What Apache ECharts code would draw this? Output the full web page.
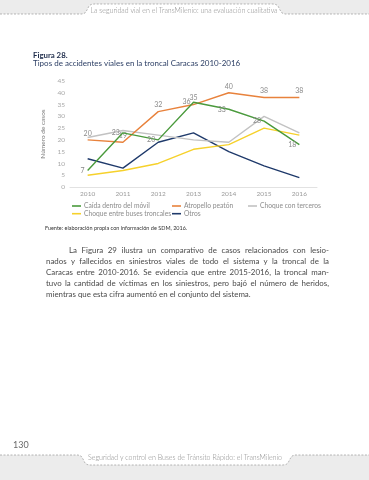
<!DOCTYPE html>
<html><head><meta charset="utf-8">
<script src="https://cdn.jsdelivr.net/npm/echarts@6/dist/echarts.min.js"></script>
<style>html,body{margin:0;padding:0;background:#fff}#c{width:369px;height:480px}</style>
</head><body><div id="c"></div>
<script>
// ---- data ----
const categories = ['2010', '2011', '2012', '2013', '2014', '2015', '2016'];
const caidaMovil = [7, 23, 20, 36, 33, 28, 18];
const atropelloPeaton = [20, 19, 32, 35, 40, 38, 38];
const choqueTerceros = [21, 24, 22, 20, 19, 30, 23];
const choqueBuses = [5, 7, 10, 16, 18, 25, 22];
const otros = [12, 8, 19, 23, 15, 9, 4];
const seriesNames = ['Caída dentro del móvil', 'Atropello peatón', 'Choque con terceros', 'Choque entre buses troncales', 'Otros'];
const yMin = 0, yMax = 45, yInterval = 5;

const headerText = 'La seguridad vial en el TransMilenio: una evaluación cualitativa';
const footerText = 'Seguridad y control en Buses de Tránsito Rápido: el TransMilenio';
const figLabel = 'Figura 28.';
const figTitle = 'Tipos de accidentes viales en la troncal Caracas 2010-2016';
const sourceText = 'Fuente: elaboración propia con información de SDM, 2016.';
const bodyLines = [
  'La Figura 29 ilustra un comparativo de casos relacionados con lesio-',
  'nados y fallecidos en siniestros viales de todo el sistema y la troncal de la',
  'Caracas entre 2010-2016. Se evidencia que entre 2015-2016, la troncal man-',
  'tuvo la cantidad de víctimas en los siniestros, pero bajó el número de heridos,',
  'mientras que esta cifra aumentó en el conjunto del sistema.'
];
const pageNumber = '130';

// ---- styles ----
const FONT = 'Lato';
const colors = ['#4a9a3c', '#e8823c', '#c2c2c2', '#f6d12b', '#1f3a6b'];
const dashStroke = {stroke: '#9a9a9a', lineWidth: 0.7, lineDash: [2, 1.5], fill: null};

const chart = echarts.init(document.getElementById('c'), null, {renderer: 'canvas'});

// header/footer shapes
const H = 14;
const headerOutline = [[0,H],[82,H],[85,H-1],[87,H-4],[89,H-8],[91,H-9.5],[94,H-10],[273,H-10],[276,H-9.5],[278,H-8],[280,H-4],[282,H-1],[285,H],[369,H]];
const F = 455;
const footerOutline = [[0,F],[78,F],[81,F+1],[83,F+4],[85,F+8],[87,F+9.5],[90,F+10],[283,F+10],[286,F+9.5],[288,F+8],[290,F+4],[292,F+1],[295,F],[369,F]];

const graphics = [
  {type: 'rect', shape: {x: 0, y: 0, width: 369, height: H}, style: {fill: '#ececec'}, silent: true},
  {type: 'polygon', shape: {points: headerOutline.slice(1, -1).concat([[285, H + 1], [82, H + 1]])}, style: {fill: '#fff'}, silent: true},
  {type: 'polyline', shape: {points: headerOutline}, style: dashStroke, silent: true},
  {type: 'text', x: 184, y: 11, style: {text: headerText, font: '300 7px ' + FONT, fill: '#8a8a8a', textAlign: 'center', textVerticalAlign: 'middle'}, silent: true},
  {type: 'rect', shape: {x: 0, y: F, width: 369, height: 480 - F}, style: {fill: '#ececec'}, silent: true},
  {type: 'polygon', shape: {points: footerOutline.slice(1, -1).concat([[295, F - 0.5], [78, F - 0.5]])}, style: {fill: '#fff'}, silent: true},
  {type: 'polyline', shape: {points: footerOutline}, style: dashStroke, silent: true},
  {type: 'text', x: 185, y: 458, style: {text: footerText, font: '300 7px ' + FONT, fill: '#8a8a8a', textAlign: 'center', textVerticalAlign: 'middle'}, silent: true},
  {type: 'text', x: 13, y: 445, style: {text: pageNumber, font: '9px ' + FONT, fill: '#6a6a6a', textVerticalAlign: 'middle'}, silent: true},
  {type: 'text', x: 33, y: 55, style: {text: figLabel, font: 'bold 7.8px ' + FONT, fill: '#1d2b4a', textVerticalAlign: 'middle'}, silent: true},
  {type: 'text', x: 33, y: 63, style: {text: figTitle, font: '8px ' + FONT, fill: '#2e4066', textVerticalAlign: 'middle'}, silent: true},
  {type: 'text', x: 45, y: 228, style: {text: sourceText, font: '5.5px ' + FONT, fill: '#333', textVerticalAlign: 'middle'}, silent: true}
];

// justified body paragraph
const ctx = document.createElement('canvas').getContext('2d');
const bodyFont = '7.9px ' + FONT;
ctx.font = bodyFont;
const bodyLeft = 46, bodyIndent = 69, bodyRight = 329, bodyTop = 250, bodyLead = 11;
bodyLines.forEach((line, i) => {
  const y = bodyTop + i * bodyLead;
  const x0 = i === 0 ? bodyIndent : bodyLeft;
  const last = i === bodyLines.length - 1;
  if (last) {
    graphics.push({type: 'text', x: x0, y: y, style: {text: line, font: bodyFont, fill: '#4a4a4a', textVerticalAlign: 'middle'}, silent: true});
    return;
  }
  const words = line.split(' ');
  const widths = words.map(w => ctx.measureText(w).width);
  const total = widths.reduce((a, b) => a + b, 0);
  const gap = (bodyRight - x0 - total) / (words.length - 1);
  let x = x0;
  words.forEach((w, k) => {
    graphics.push({type: 'text', x: x, y: y, style: {text: w, font: bodyFont, fill: '#4a4a4a', textVerticalAlign: 'middle'}, silent: true});
    x += widths[k] + gap;
  });
});

const valueSets = [caidaMovil, atropelloPeaton, choqueTerceros, choqueBuses, otros];
const labelPos = ['left', 'top', null, null, null];
const series = valueSets.map((vals, i) => ({
  name: seriesNames[i],
  type: 'line',
  data: vals,
  symbol: 'circle',
  symbolSize: 0.01,
  showSymbol: true,
  lineStyle: {width: 1.4, color: colors[i]},
  itemStyle: {color: colors[i]},
  z: 10 - i,
  label: labelPos[i] ? {show: true, position: labelPos[i], distance: 3, fontSize: 7, fontFamily: FONT, color: '#8a8a8a'} : {show: false}
}));

// legends: one per item, in a 3-column grid
const legendPlaces = [[72, 202.5], [172, 202.5], [248, 202.5], [72, 210.2], [172, 210.2]];
const legends = seriesNames.map((n, i) => ({
  data: [n], left: legendPlaces[i][0], top: legendPlaces[i][1],
  icon: 'rect', itemWidth: 9, itemHeight: 1.6, padding: 0,
  textStyle: {fontSize: 6.7, fontFamily: FONT, color: '#8c8c8c', padding: [0, 0, 0, -2]},
  selectedMode: false
}));

chart.setOption({
  animation: false,
  textStyle: {fontFamily: FONT},
  graphic: graphics,
  color: colors,
  grid: {left: 70, right: 52, top: 81, bottom: 293},
  xAxis: {
    type: 'category', data: categories, boundaryGap: true,
    axisLine: {lineStyle: {color: '#e2e2e2', width: 1}},
    axisTick: {show: false},
    axisLabel: {fontSize: 6.5, color: '#9a9a9a', margin: 3, fontFamily: FONT}
  },
  yAxis: {
    type: 'value', min: yMin, max: yMax, interval: yInterval,
    name: 'Número de casos', nameLocation: 'middle', nameGap: 17, nameRotate: 90,
    nameTextStyle: {fontSize: 6.5, color: '#7a7a7a', fontFamily: FONT},
    axisLine: {show: false}, axisTick: {show: false},
    splitLine: {show: false},
    axisLabel: {fontSize: 6.5, color: '#a8a8a8', margin: 5, fontFamily: FONT}
  },
  legend: legends,
  series: series
});
</script>
</body></html>
